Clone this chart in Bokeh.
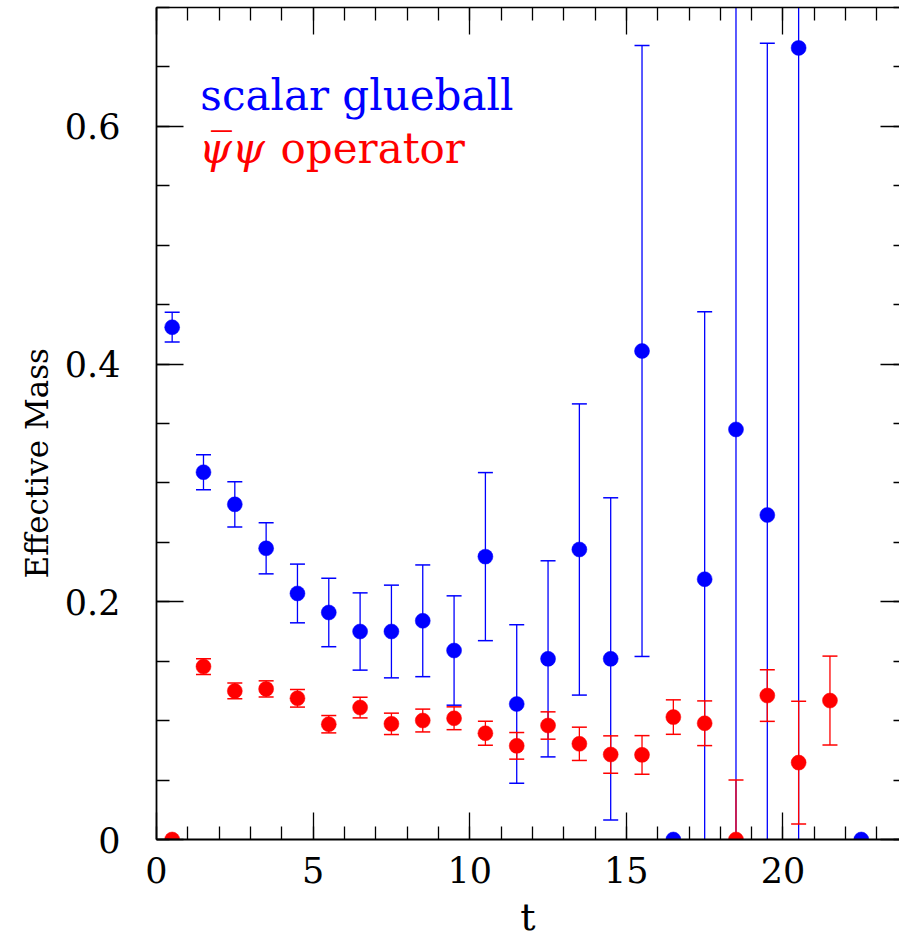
import numpy as np
from bokeh.plotting import figure
from bokeh.models import Range1d, FixedTicker, LinearAxis, Label, Title
from bokeh.embed import file_html
from bokeh.resources import INLINE

# ---------------- data ----------------
nan = float("nan")
t_glue = [0.5, 1.5, 2.5, 3.5, 4.5, 5.5, 6.5, 7.5, 8.5, 9.5, 10.5, 11.5,
          12.5, 13.5, 14.5, 15.5, 16.5, 17.5, 18.5, 19.5, 20.5, 22.5]
m_glue = [0.431, 0.309, 0.282, 0.245, 0.207, 0.191, 0.175, 0.175, 0.184, 0.159,
          0.238, 0.114, 0.152, 0.244, 0.152, 0.411, 0.0, 0.219, 0.345, 0.273,
          0.666, 0.0]
e_glue = [0.0125, 0.0147, 0.019, 0.0215, 0.0247, 0.0288, 0.0325, 0.039, 0.047,
          0.046, 0.0707, 0.0667, 0.0825, 0.1225, 0.1355, 0.257, nan, 0.225,
          0.5, 0.397, 0.8, nan]

t_psi = [0.5, 1.5, 2.5, 3.5, 4.5, 5.5, 6.5, 7.5, 8.5, 9.5, 10.5, 11.5,
         12.5, 13.5, 14.5, 15.5, 16.5, 17.5, 18.5, 19.5, 20.5, 21.5]
m_psi = [0.0, 0.1455, 0.125, 0.1267, 0.1188, 0.097, 0.111, 0.0973, 0.1001,
         0.102, 0.0894, 0.0788, 0.0959, 0.0805, 0.0715, 0.0712, 0.103, 0.0978,
         0.0, 0.1211, 0.0647, 0.1169]
e_psi = [nan, 0.0066, 0.0066, 0.0068, 0.0074, 0.0073, 0.0087, 0.009, 0.0096,
         0.0096, 0.0101, 0.0112, 0.0115, 0.014, 0.0157, 0.0162, 0.0145, 0.0188,
         0.05, 0.0217, 0.0516, 0.0374]

x_ticks = [0, 5, 10, 15, 20]
x_tick_labels = ["0", "5", "10", "15", "20"]
x_minor = list(range(0, 25))
y_ticks = [0, 0.2, 0.4, 0.6]
y_tick_labels = ["0", "0.2", "0.4", "0.6"]
y_minor = [round(0.05 * k, 2) for k in range(0, 15)]

series_names = ["scalar glueball", "operator"]
x_label = "t"
y_label = "Effective Mass"

BLUE = "#0000ff"
RED = "#ff0000"
FONT = "DejaVu Serif"

# ---------------- figure ----------------
p = figure(width=899, height=941, x_range=Range1d(0, 23.72), y_range=Range1d(0, 0.7),
           output_backend="svg", toolbar_location=None,
           x_axis_location=None, y_axis_location=None,
           min_border_left=156, min_border_right=0, min_border_top=7,
           min_border_bottom=102)
p.outline_line_color = None
p.xgrid.visible = False
p.ygrid.visible = False
p.background_fill_color = "white"
p.border_fill_color = "white"


def style_axis(ax, labels=True, line=True, maj=27, mnr=13, lw=1.6):
    ax.major_tick_in = maj
    ax.major_tick_out = 0
    ax.minor_tick_in = mnr
    ax.minor_tick_out = 0
    ax.major_tick_line_width = 1.3
    ax.minor_tick_line_width = 1.3
    ax.major_tick_line_color = "black"
    ax.minor_tick_line_color = "black"
    if line:
        ax.axis_line_width = lw
        ax.axis_line_color = "black"
    else:
        ax.axis_line_color = None
    ax.major_label_text_font = FONT
    ax.major_label_text_font_size = "35px"
    ax.major_label_text_color = "black"
    if not labels:
        ax.major_label_standoff = 0


xb = LinearAxis(ticker=FixedTicker(ticks=x_ticks, minor_ticks=x_minor),
                major_label_overrides={k: v for k, v in zip(x_ticks, x_tick_labels)})
style_axis(xb, lw=2.2)
xb.major_label_standoff = 17
xb.axis_label = x_label
xb.axis_label_text_font = FONT
xb.axis_label_text_font_size = "38px"
xb.axis_label_text_font_style = "normal"
xb.axis_label_text_color = "black"
xb.axis_label_standoff = 9
p.add_layout(xb, "below")

yl = LinearAxis(ticker=FixedTicker(ticks=y_ticks, minor_ticks=y_minor),
                major_label_overrides={k: v for k, v in zip(y_ticks, y_tick_labels)})
style_axis(yl, lw=1.8)
yl.major_label_standoff = 36
p.add_layout(yl, "left")

xt = LinearAxis(ticker=FixedTicker(ticks=x_ticks, minor_ticks=x_minor),
                major_label_overrides={k: "" for k in x_ticks})
style_axis(xt, labels=False, lw=1.6)
p.add_layout(xt, "above")

yr = LinearAxis(ticker=FixedTicker(ticks=y_ticks, minor_ticks=y_minor),
                major_label_overrides={k: "" for k in y_ticks})
style_axis(yr, labels=False, line=False, maj=19, mnr=6)
p.add_layout(yr, "right")

# y-axis title, placed where the reference has it (not centred on the frame)
p.add_layout(Title(text=y_label, align="left", offset=261, text_font=FONT,
                   text_font_size="31px", text_font_style="normal",
                   text_color="black", standoff=14), "left")

# ---------------- data marks ----------------
def draw_series(t, m, e, color):
    t = np.asarray(t, dtype=float)
    m = np.asarray(m, dtype=float)
    e = np.asarray(e, dtype=float)
    ok = ~np.isnan(e)
    lo = m[ok] - e[ok]
    hi = m[ok] + e[ok]
    p.segment(x0=t[ok], y0=lo, x1=t[ok], y1=hi, line_color=color, line_width=1.3)
    p.scatter(x=np.concatenate([t[ok], t[ok]]), y=np.concatenate([lo, hi]),
              marker="dash", size=15, line_color=color, line_width=1.5)
    p.scatter(x=t, y=m, marker="circle", size=15, fill_color=color,
              line_color=color, line_width=0.5)


draw_series(t_glue, m_glue, e_glue, BLUE)
draw_series(t_psi, m_psi, e_psi, RED)

# ---------------- legend texts ----------------
p.add_layout(Label(x=1.40, y=0.6256, text=series_names[0], text_color=BLUE,
                   text_font=FONT, text_font_size="42px", text_baseline="alphabetic"))
p.add_layout(Label(x=1.36, y=0.5815, text="\u03c8\u0305\u03c8", text_color=RED,
                   text_font=FONT, text_font_size="42px", text_font_style="italic",
                   text_baseline="alphabetic"))
p.add_layout(Label(x=3.96, y=0.5815, text=series_names[1], text_color=RED,
                   text_font=FONT, text_font_size="42px", text_baseline="alphabetic"))

open("out.html", "w").write(file_html(p, INLINE))
